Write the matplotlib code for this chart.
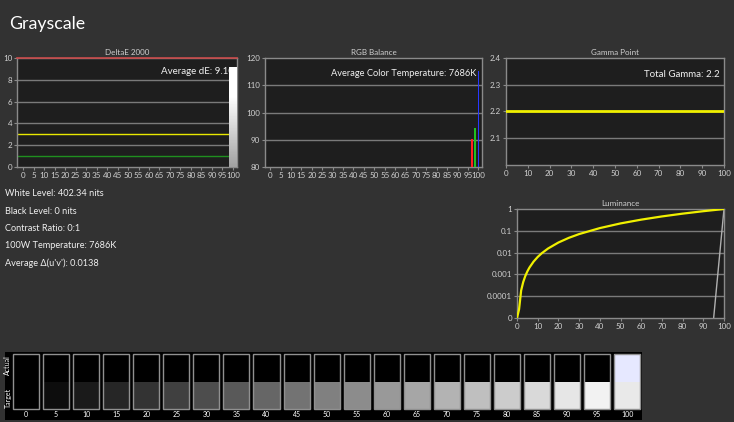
import matplotlib
matplotlib.use("Agg")
import matplotlib.pyplot as plt
import numpy as np
from matplotlib.patches import Rectangle
from matplotlib.ticker import NullLocator

plt.rcParams['font.family'] = ['Lato', 'DejaVu Sans']

# ---------------- data ----------------
steps = [0, 5, 10, 15, 20, 25, 30, 35, 40, 45, 50, 55, 60, 65, 70, 75, 80, 85, 90, 95, 100]
step_labels = [str(s) for s in steps]
delta_e = [0, 0, 0, 0, 0, 0, 0, 0, 0, 0, 0, 0, 0, 0, 0, 0, 0, 0, 0, 0, 9.1]
rgb_red = [0, 0, 0, 0, 0, 0, 0, 0, 0, 0, 0, 0, 0, 0, 0, 0, 0, 0, 0, 0, 90.2]
rgb_green = [0, 0, 0, 0, 0, 0, 0, 0, 0, 0, 0, 0, 0, 0, 0, 0, 0, 0, 0, 0, 94.3]
rgb_blue = [0, 0, 0, 0, 0, 0, 0, 0, 0, 0, 0, 0, 0, 0, 0, 0, 0, 0, 0, 0, 115.2]
gamma_x = [0, 100]
gamma_y = [2.2, 2.2]
lum_target_x = [0, 1, 2, 3, 4, 5, 6, 8, 10, 12, 15, 20, 25, 30, 40, 50, 60, 70, 80, 90, 100]
lum_target_y = [0, 4.0e-5, 1.83e-4, 4.46e-4, 8.4e-4, 1.37e-3, 2.05e-3, 3.86e-3, 6.31e-3,
                9.43e-3, 0.0154, 0.029, 0.0474, 0.0707, 0.133, 0.218, 0.325, 0.456,
                0.612, 0.793, 1.0]
lum_actual_x = [95, 100]
lum_actual_y = [0, 1.0]
target_gray = [0, 13, 26, 38, 51, 64, 77, 89, 102, 115, 128, 140, 153, 166, 179, 191,
               204, 217, 230, 242, 233]
actual_rgb = [(0, 0, 0)] * 20 + [(230, 232, 255)]
stats = ["White Level: 402.34 nits", "Black Level: 0 nits", "Contrast Ratio: 0:1",
         "100W Temperature: 7686K", "Average \u0394(u'v'): 0.0138"]

# ---------------- style ----------------
W, H = 734, 422
BG = '#323232'
AX_BG = '#1e1e1e'
SPINE = '#8a8a8a'
GRID = '#7a7a7a'
TXT = '#f0f0f0'
TICK_TXT = '#d0d0d0'

fig = plt.figure(figsize=(W / 100, H / 100), dpi=100, facecolor=BG)


def px_axes(l, t, r, b):
    return fig.add_axes([l / W, 1 - b / H, (r - l) / W, (b - t) / H])


def style(ax, title):
    ax.set_facecolor(AX_BG)
    for s in ax.spines.values():
        s.set_color(SPINE)
        s.set_linewidth(1)
    ax.tick_params(colors=SPINE, labelcolor=TICK_TXT, labelsize=5.8, length=2, width=0.8, pad=1.5)
    ax.set_title(title, color=TICK_TXT, fontsize=5.8, pad=2)


fig.text(9 / W, 1 - 29.5 / H, "Grayscale", color='white', fontsize=12.8, ha='left', va='baseline')

# ---- DeltaE 2000 ----
ax1 = px_axes(17, 58, 237, 167)
style(ax1, "DeltaE 2000")
idx = np.arange(len(steps))
bw = 0.7
ax1.set_ylim(0, 10)
ax1.set_yticks([0, 2, 4, 6, 8, 10])
for g in [2, 4, 6, 8]:
    ax1.axhline(g, color=GRID, lw=1, zorder=1)
ax1.axhline(3, color='#e8e800', lw=1, zorder=2)
ax1.axhline(1, color='#1f8f1f', lw=1, zorder=2)
ax1.axhline(10, color='#c84848', lw=1.2, zorder=6, clip_on=False)
ax1.text(0.984, 0.88, "Average dE: 9.10", transform=ax1.transAxes, ha='right', va='center',
         color=TXT, fontsize=7, zorder=3)
bars = ax1.bar(idx, delta_e, width=bw, color='#c8c8c8', zorder=4)
grad = np.linspace(0.55, 1.0, 100)
grad = np.clip(grad * 1.15, 0, 1)[:, None]
for rect in bars:
    h = rect.get_height()
    if h > 0:
        ax1.imshow(grad, cmap='gray', vmin=0, vmax=1, origin='lower', aspect='auto',
                   extent=(rect.get_x(), rect.get_x() + rect.get_width(), 0, h), zorder=5)
ax1.set_xlim(-0.6, 20.4)
ax1.set_ylim(0, 10)
ax1.set_xticks(idx)
ax1.set_xticklabels(step_labels)

# ---- RGB Balance ----
ax2 = px_axes(265, 58, 482, 167)
style(ax2, "RGB Balance")
ax2.set_ylim(80, 120)
ax2.set_yticks([80, 90, 100, 110, 120])
for g in [90, 100, 110]:
    ax2.axhline(g, color=GRID, lw=1, zorder=1)
rw = 0.16
ax2.bar(idx - 0.6, rgb_red, width=rw, color='#ff2020', zorder=3)
ax2.bar(idx - 0.3, rgb_green, width=rw, color='#20c020', zorder=3)
ax2.bar(idx, rgb_blue, width=rw, color='#2838ff', zorder=3)
ax2.text(0.975, 0.86, "Average Color Temperature: 7686K", transform=ax2.transAxes, ha='right',
         va='center', color=TXT, fontsize=6.7, zorder=4)
ax2.set_xlim(-0.5, 20.35)
ax2.set_xticks(idx)
ax2.set_xticklabels(step_labels)

# ---- Gamma Point ----
ax3 = px_axes(506, 58, 724, 165)
style(ax3, "Gamma Point")
ax3.set_ylim(2.0, 2.4)
ax3.set_yticks([2.1, 2.2, 2.3, 2.4])
for g in [2.1, 2.3]:
    ax3.axhline(g, color=GRID, lw=1, zorder=1)
ax3.plot(gamma_x, gamma_y, color='#f0f000', lw=2, zorder=3)
ax3.text(0.98, 0.85, "Total Gamma: 2.2", transform=ax3.transAxes, ha='right', va='center',
         color=TXT, fontsize=7)
ax3.set_xlim(0, 100)
ax3.set_xticks(range(0, 101, 10))

# ---- Luminance ----
ax4 = px_axes(517, 209, 724, 318)
style(ax4, "Luminance")
ax4.set_yscale('symlog', linthresh=1e-4, linscale=0.9)
ax4.set_ylim(0, 1)
lt = [0, 1e-4, 1e-3, 1e-2, 1e-1, 1]
ax4.set_yticks(lt)
ax4.set_yticklabels(["0", "0.0001", "0.001", "0.01", "0.1", "1"])
ax4.yaxis.set_minor_locator(NullLocator())
for g in lt[1:-1]:
    ax4.axhline(g, color=GRID, lw=1, zorder=1)
ax4.plot(lum_actual_x, lum_actual_y, color='#b0b0b0', lw=1, zorder=2)
ax4.plot(lum_target_x, lum_target_y, color='#f0f000', lw=1.6, zorder=3)
ax4.set_xlim(0, 100)
ax4.set_xticks(range(0, 101, 10))

# ---- Stats text ----
for i, s in enumerate(stats):
    fig.text(5 / W, 1 - (194 + i * 17.3) / H, s, color=TXT, fontsize=6.6, ha='left', va='center')

# ---- Swatches ----
ax5 = px_axes(4.7, 351.7, 642, 420)
ax5.set_facecolor('black')
for s in ax5.spines.values():
    s.set_visible(False)
ax5.set_xticks([])
ax5.set_yticks([])
ax5.set_xlim(-0.708, 20.49)
ax5.set_ylim(0, 1)
sw = 0.867
y_bot, y_mid, y_top = 0.157, 0.561, 0.962
for i, (lab, tg, ac) in enumerate(zip(step_labels, target_gray, actual_rgb)):
    ax5.add_patch(Rectangle((i - sw / 2, y_bot), sw, y_mid - y_bot,
                            facecolor=(tg / 255, tg / 255, tg / 255), edgecolor='none'))
    ax5.add_patch(Rectangle((i - sw / 2, y_mid), sw, y_top - y_mid,
                            facecolor=tuple(c / 255 for c in ac), edgecolor='none'))
    ax5.add_patch(Rectangle((i - sw / 2, y_bot), sw, y_top - y_bot,
                            facecolor='none', edgecolor='#909090', lw=1))
    ax5.text(i, 0.075, lab, color='white', fontsize=5, ha='center', va='center')
ax5.text(-0.6, 0.80, "Actual", color='white', fontsize=5, rotation=90, ha='center', va='center')
ax5.text(-0.6, 0.33, "Target", color='white', fontsize=5, rotation=90, ha='center', va='center')

fig.savefig("out.png", dpi=100, facecolor=BG)
